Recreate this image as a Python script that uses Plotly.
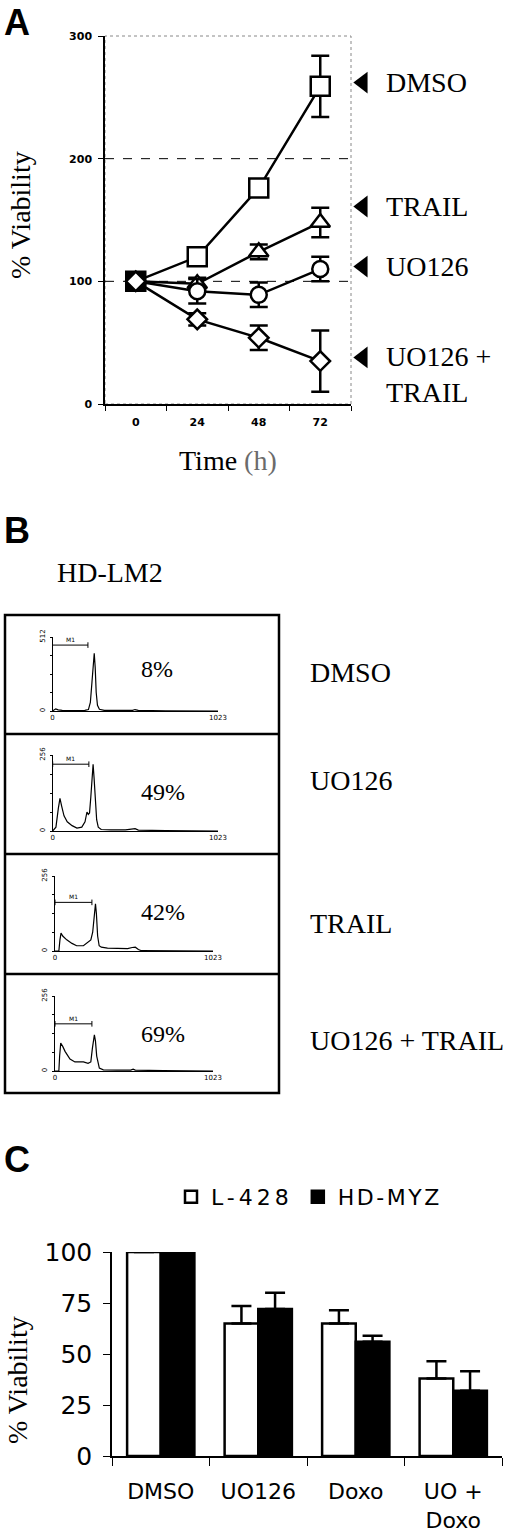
import plotly.graph_objects as go

W, H = 520, 1537

# ---------- panel A : viability over time ----------
time_labels = ["0", "24", "48", "72"]
dmso_a = [100, 120, 176, 259]
dmso_a_err = [0, 2, 4, 25]
trail_a = [100, 98, 124, 148]
trail_a_err = [0, 5, 6, 12]
uo126_a = [100, 92, 89, 110]
uo126_a_err = [0, 10, 10, 10]
combo_a = [100, 69, 54, 35]
combo_a_err = [0, 5, 10, 25]
a_label_text = ["DMSO", "TRAIL", "UO126", "UO126 +<br>TRAIL"]
a_label_level = [262, 161, 112, 38]

# ---------- panel B : HD-LM2 DNA histograms ----------
b_conditions = ["DMSO", "UO126", "TRAIL", "UO126 + TRAIL"]
b_percent = ["8%", "49%", "42%", "69%"]
b_ymax = [512, 256, 256, 256]
hist_channel = [
    [0, 8, 20, 35, 60, 120, 200, 222, 234, 244, 252, 258, 264, 270, 278, 290, 320, 420, 495, 510, 530, 700, 1023],
    [0, 20, 35, 45, 55, 70, 90, 120, 150, 180, 200, 212, 220, 228, 236, 244, 250, 256, 264, 272, 282, 300, 360,
     450, 510, 530, 700, 1023],
    [0, 25, 32, 39, 50, 76, 110, 140, 184, 205, 216, 232, 244, 254, 262, 268, 276, 286, 300, 340, 400, 470, 500,
     520, 540, 560, 1023],
    [0, 25, 30, 37, 50, 65, 97, 129, 160, 184, 214, 232, 242, 250, 255, 262, 270, 287, 313, 400, 490, 506, 520,
     700, 1023],
]
hist_count = [
    [0, 8, 15, 8, 4, 3, 4, 10, 60, 200, 360, 400, 300, 130, 40, 12, 4, 3, 5, 10, 4, 1, 0],
    [0, 13, 77, 110, 85, 51, 31, 18, 10, 13, 31, 64, 56, 61, 115, 192, 225, 179, 115, 38, 13, 5, 4, 4, 8, 3, 1, 0],
    [0, 0, 38, 61, 51, 38, 26, 18, 18, 26, 33, 38, 64, 128, 161, 128, 51, 18, 13, 10, 9, 8, 12, 13, 5, 1, 0],
    [0, 0, 51, 95, 84, 67, 41, 31, 31, 31, 26, 31, 77, 115, 123, 102, 51, 10, 4, 3, 3, 6, 3, 1, 0],
]
m1_end = [219, 224, 239, 239]
m1_level = [456, 225, 166, 161]

# ---------- panel C : bar chart ----------
c_groups = ["DMSO", "UO126", "Doxo", "UO +<br>Doxo"]
l428 = [100, 65, 65, 38]
l428_err = [0, 8.5, 6.5, 8.5]
hdmyz = [100, 72, 56, 32]
hdmyz_err = [0, 8, 3, 9.5]


def px(x):
    return x / W


def py(y):
    return 1 - y / H


SERIF = "Liberation Serif, Times New Roman, serif"
SANS = "DejaVu Sans, Verdana, sans-serif"

fig = go.Figure()

# panel A traces
a_specs = [
    (dmso_a, dmso_a_err, "square", 19, True),
    (trail_a, trail_a_err, "triangle-up", 17, True),
    (uo126_a, uo126_a_err, "circle", 16, True),
    (combo_a, combo_a_err, "diamond", 15, False),
]
for vals, errs, sym, size, dark_start in a_specs:
    fills = (["black"] if dark_start else ["white"]) + ["white"] * (len(vals) - 1)
    fig.add_trace(go.Scatter(
        x=time_labels, y=vals, mode="lines+markers", showlegend=False,
        line=dict(color="black", width=2.5),
        marker=dict(symbol=sym, size=size, color=fills, line=dict(color="black", width=2.5)),
        error_y=dict(type="data", array=errs, color="black", thickness=2.5, width=9),
        xaxis="x", yaxis="y", cliponaxis=False,
    ))

# arrows pointing at the curves
fig.add_trace(go.Scatter(
    x=[0.07] * len(a_label_level), y=a_label_level, mode="markers", showlegend=False,
    marker=dict(symbol="triangle-left", size=19, color="black"),
    xaxis="x2", yaxis="y", cliponaxis=False,
))

# panel B histograms
for i in range(4):
    n = i + 3
    fig.add_trace(go.Scatter(
        x=hist_channel[i], y=hist_count[i], mode="lines", showlegend=False,
        line=dict(color="black", width=1.2),
        xaxis=f"x{n}", yaxis=f"y{n}",
    ))
    fig.add_trace(go.Scatter(
        x=[0, m1_end[i]], y=[m1_level[i], m1_level[i]], mode="lines+markers", showlegend=False,
        line=dict(color="black", width=1),
        marker=dict(symbol="line-ns-open", size=4, line=dict(color="black", width=1)),
        xaxis=f"x{n}", yaxis=f"y{n}", cliponaxis=False,
    ))

# panel C bars
fig.add_trace(go.Bar(
    x=c_groups, y=l428, name="<span style='letter-spacing:4px'>L-428</span>",
    marker=dict(color="white", line=dict(color="black", width=2.5)),
    error_y=dict(type="data", array=l428_err, arrayminus=[0] * 4, symmetric=False,
                 color="black", thickness=2.5, width=10),
    xaxis="x7", yaxis="y7", cliponaxis=False,
))
fig.add_trace(go.Bar(
    x=c_groups, y=hdmyz, name="<span style='letter-spacing:2.5px'>HD-MYZ</span>",
    marker=dict(color="black", line=dict(color="black", width=2.5)),
    error_y=dict(type="data", array=hdmyz_err, arrayminus=[0] * 4, symmetric=False,
                 color="black", thickness=2.5, width=10),
    xaxis="x7", yaxis="y7", cliponaxis=False,
))

layout_axes = dict(
    xaxis=dict(domain=[px(105), px(351)], anchor="y", type="category", range=[-0.5, 3.5],
               tickson="boundaries", ticks="outside", ticklen=5, tickcolor="black",
               showline=True, linecolor="black", linewidth=1.5, showgrid=False, automargin=False,
               tickfont=dict(family=SANS, size=11, color="black", weight="bold"), ticklabelstandoff=7),
    yaxis=dict(domain=[py(404), py(36)], anchor="x", range=[0, 300], tickvals=[0, 100, 200, 300],
               ticks="outside", ticklen=5, tickcolor="black", showline=True, linecolor="black",
               linewidth=1.5, showgrid=False, zeroline=False, automargin=False,
               tickfont=dict(family=SANS, size=11, color="black", weight="bold"), ticklabelstandoff=4),
    xaxis2=dict(domain=[px(351), 1.0], anchor="y", range=[0, 1], visible=False, automargin=False),
    xaxis7=dict(domain=[px(112), px(502)], anchor="y7", type="category", range=[-0.5, 3.5],
                tickson="boundaries", ticks="outside", ticklen=8, tickcolor="black",
                showline=True, linecolor="black", linewidth=1.5, showgrid=False, automargin=False,
                tickfont=dict(family=SANS, size=22, color="black"), ticklabelstandoff=15),
    yaxis7=dict(domain=[py(1456), py(1252)], anchor="x7", range=[0, 100], tickvals=[0, 25, 50, 75, 100],
                ticks="outside", ticklen=7, tickcolor="black", showline=True, linecolor="black",
                linewidth=1.5, showgrid=False, zeroline=False, automargin=False,
                tickfont=dict(family=SANS, size=25, color="black"), ticklabelstandoff=6),
)

hist_box = [  # x0, x1, baseline, top (pixels)
    (52.5, 218, 711, 637),
    (52.7, 218, 831, 755),
    (55, 213, 951, 876),
    (55, 213, 1071, 996),
]
for i, (x0, x1, yb, yt) in enumerate(hist_box):
    n = i + 3
    ym = b_ymax[i]
    layout_axes[f"xaxis{n}"] = dict(
        domain=[px(x0), px(x1)], anchor=f"y{n}", range=[0, 1023], tickvals=[0, 1023],
        ticktext=["0", "1023"], ticks="", showline=True, linecolor="black", linewidth=1,
        showgrid=False, zeroline=False, automargin=False,
        tickfont=dict(family=SANS, size=7, color="black"), ticklabelstandoff=0)
    layout_axes[f"yaxis{n}"] = dict(
        domain=[py(yb), py(yt)], anchor=f"x{n}", range=[0, ym],
        tickvals=[0, ym / 4, ym / 2, 3 * ym / 4, ym], ticktext=["0", "", "", "", str(ym)],
        ticks="outside", ticklen=2, tickcolor="black", showline=True, linecolor="black",
        linewidth=1, showgrid=False, zeroline=False, tickangle=-90, automargin=False,
        tickfont=dict(family=SANS, size=7, color="black"), ticklabelstandoff=2)

shapes = [
    # panel A frame (dotted top/right) and dashed reference lines
    dict(type="rect", xref="x domain", yref="y domain", x0=0, x1=1, y0=0, y1=1,
         line=dict(color="#888888", width=1, dash="dot"), layer="below"),
    dict(type="line", xref="x domain", yref="y", x0=0, x1=1, y0=200, y1=200,
         line=dict(color="black", width=1, dash="dash")),
    dict(type="line", xref="x domain", yref="y", x0=0, x1=1, y0=100, y1=100,
         line=dict(color="black", width=1, dash="dash"), layer="below"),
    # panel B frames
    dict(type="rect", xref="paper", yref="paper", x0=px(5), x1=px(279), y0=py(1093), y1=py(615),
         line=dict(color="black", width=2.5)),
]
for yy in [734, 854, 974]:
    shapes.append(dict(type="line", xref="paper", yref="paper", x0=px(5), x1=px(279), y0=py(yy), y1=py(yy),
                       line=dict(color="black", width=2.5)))

LETTER = dict(family="Liberation Sans, Arial, sans-serif", size=36, color="black")
annotations = [
    dict(text="<b>A</b>", x=px(2), y=py(0), xanchor="left", yanchor="top", font=LETTER),
    dict(text="<b>B</b>", x=px(2), y=py(530), xanchor="left", yanchor="middle", font=LETTER),
    dict(text="<b>C</b>", x=px(2), y=py(1159), xanchor="left", yanchor="middle", font=LETTER),
    dict(text="% Viability", x=px(20), y=py(215), textangle=-90, xanchor="center", yanchor="middle",
         font=dict(family=SERIF, size=28, color="black")),
    dict(text="Time <span style='color:#6b6b6b'>(h)</span>", x=px(228), y=py(460),
         xanchor="center", yanchor="middle", font=dict(family=SERIF, size=28, color="black")),
    dict(text="HD-LM2", x=px(55), y=py(572), xanchor="left", yanchor="middle",
         font=dict(family=SERIF, size=28, color="black")),
    dict(text="% Viability", x=px(17), y=py(1380), textangle=-90, xanchor="center", yanchor="middle",
         font=dict(family=SERIF, size=28, color="black")),
]
for txt, lvl in zip(a_label_text, a_label_level):
    two_line = "<br>" in txt
    annotations.append(dict(text=txt, x=px(384), xref="paper", y=lvl, yref="y", xanchor="left",
                            yanchor="top" if two_line else "middle", yshift=18 if two_line else 0,
                            align="left", font=dict(family=SERIF, size=28, color="black")))

b_label_y = [672, 780, 923, 1040]
pct_pos = [(157, 669), (163, 792), (163, 912), (163, 1034)]
for i in range(4):
    n = i + 3
    annotations.append(dict(text=b_conditions[i], x=px(308), y=py(b_label_y[i]), xanchor="left",
                            yanchor="middle", font=dict(family=SERIF, size=28, color="black")))
    annotations.append(dict(text=b_percent[i], x=px(pct_pos[i][0]), y=py(pct_pos[i][1]), xanchor="center",
                            yanchor="middle", font=dict(family=SERIF, size=24, color="black")))
    annotations.append(dict(text="M1", x=m1_end[i] / 2, y=m1_level[i], xref=f"x{n}", yref=f"y{n}",
                            xanchor="center", yanchor="bottom", yshift=0,
                            font=dict(family=SANS, size=6, color="black")))

for a in annotations:
    a.setdefault("xref", "paper")
    a.setdefault("yref", "paper")
    a["showarrow"] = False

fig.update_layout(
    template="none",
    width=W, height=H,
    margin=dict(l=0, r=0, t=0, b=0, pad=0, autoexpand=False),
    paper_bgcolor="white", plot_bgcolor="rgba(0,0,0,0)",
    barmode="group", bargap=0.31, bargroupgap=0,
    showlegend=True,
    legend=dict(orientation="h", x=px(171), y=py(1197), xanchor="left", yanchor="middle",
                font=dict(family=SANS, size=22, color="black"), bgcolor="rgba(0,0,0,0)",
                itemwidth=30, traceorder="normal"),
    shapes=shapes,
    annotations=annotations,
    **layout_axes,
)

# page body has a default 8px margin; drop it so the figure sits at the window's corner
fig.write_html("out.html", config={"displayModeBar": False},
               post_script="document.body.style.margin = '0px';")
